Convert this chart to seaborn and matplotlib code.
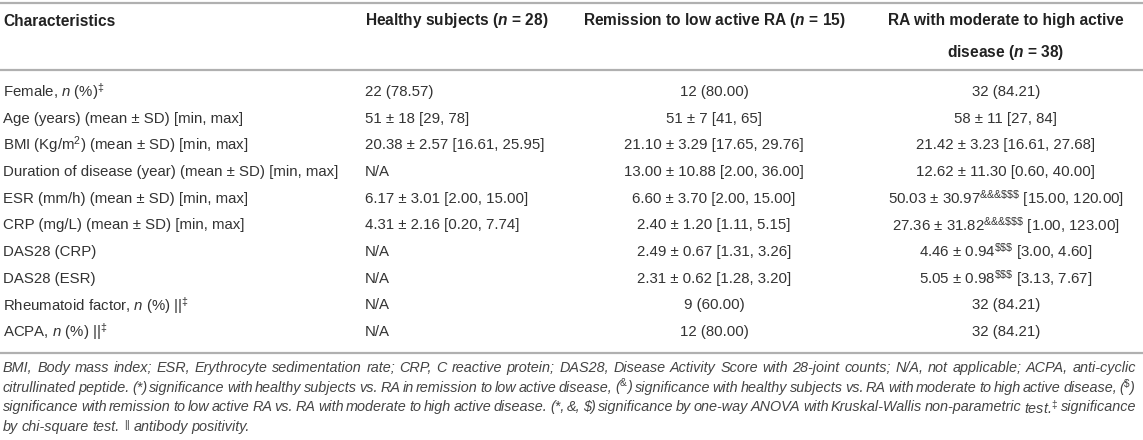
## Table 1 style figure: patient characteristics by group

import numpy as np
import pandas as pd
import seaborn as sns
from matplotlib import pyplot as plt

sns.set_theme(style="white")
plt.rcParams['font.family'] = ['Liberation Sans', 'DejaVu Sans']
plt.rcParams['mathtext.fontset'] = 'custom'
plt.rcParams['mathtext.rm'] = 'Liberation Sans'
plt.rcParams['mathtext.it'] = 'Liberation Sans:italic'
plt.rcParams['mathtext.bf'] = 'Liberation Sans:bold'
plt.rcParams['mathtext.bfit'] = 'Liberation Sans:italic:bold'

headers = ["Characteristics",
           "Healthy subjects ($\\mathbfit{n}$ = 28)",
           "Remission to low active RA ($\\mathbfit{n}$ = 15)",
           "RA with moderate to high active\ndisease ($\\mathbfit{n}$ = 38)"]

characteristics = ["Female, $\\mathit{n}$ (%)$^{‡}$",
                   "Age (years) (mean ± SD) [min, max]",
                   "BMI (Kg/m$^{2}$) (mean ± SD) [min, max]",
                   "Duration of disease (year) (mean ± SD) [min, max]",
                   "ESR (mm/h) (mean ± SD) [min, max]",
                   "CRP (mg/L) (mean ± SD) [min, max]",
                   "DAS28 (CRP)",
                   "DAS28 (ESR)",
                   "Rheumatoid factor, $\\mathit{n}$ (%) ||$^{‡}$",
                   "ACPA, $\\mathit{n}$ (%) ||$^{‡}$"]

healthy = ["22 (78.57)", "51 ± 18 [29, 78]", "20.38 ± 2.57 [16.61, 25.95]", "N/A",
           "6.17 ± 3.01 [2.00, 15.00]", "4.31 ± 2.16 [0.20, 7.74]",
           "N/A", "N/A", "N/A", "N/A"]

remission = ["12 (80.00)", "51 ± 7 [41, 65]", "21.10 ± 3.29 [17.65, 29.76]",
             "13.00 ± 10.88 [2.00, 36.00]", "6.60 ± 3.70 [2.00, 15.00]",
             "2.40 ± 1.20 [1.11, 5.15]", "2.49 ± 0.67 [1.31, 3.26]",
             "2.31 ± 0.62 [1.28, 3.20]", "9 (60.00)", "12 (80.00)"]

moderate = ["32 (84.21)", "58 ± 11 [27, 84]", "21.42 ± 3.23 [16.61, 27.68]",
            "12.62 ± 11.30 [0.60, 40.00]",
            "50.03 ± 30.97$^{&&&\\$\\$\\$}$ [15.00, 120.00]",
            "27.36 ± 31.82$^{&&&\\$\\$\\$}$ [1.00, 123.00]",
            "4.46 ± 0.94$^{\\$\\$\\$}$ [3.00, 4.60]",
            "5.05 ± 0.98$^{\\$\\$\\$}$ [3.13, 7.67]",
            "32 (84.21)", "32 (84.21)"]

footnotes = ["BMI, Body mass index; ESR, Erythrocyte sedimentation rate; CRP, C reactive protein; DAS28, Disease Activity Score with 28-joint counts; N/A, not applicable; ACPA, anti-cyclic",
             "citrullinated peptide. (*) significance with healthy subjects vs. RA in remission to low active disease, ($^{&}$) significance with healthy subjects vs. RA with moderate to high active disease, ($^{\\$}$)",
             "significance with remission to low active RA vs. RA with moderate to high active disease. (*, &, \\$) significance by one-way ANOVA with Kruskal-Wallis non-parametric test.$^{‡}$ significance",
             "by chi-square test. $^{||}$ antibody positivity."]

df = pd.DataFrame({'char': characteristics, 'healthy': healthy,
                   'remission': remission, 'moderate': moderate})

W, H = 1143, 440
fig = plt.figure(figsize=(W / 100, H / 100), dpi=100)
ax = fig.add_axes([0, 0, 1, 1])
ax.set_xlim(0, W)
ax.set_ylim(H, 0)
ax.axis('off')

body_fs = 10.8
head_fs = 11.2
head_col = '#222222'
body_col = '#333333'
foot_col = '#444444'
rule_col = '#b0b0b0'

# columns: left aligned, left aligned, centered, centered
col_x = [3, 365, 714, 1006]
col_ha = ['left', 'left', 'center', 'center']

# horizontal rules
for y in [3, 70, 353]:
    ax.plot([0, W], [y, y], color=rule_col, lw=1.6, solid_capstyle='butt')

# header
for x, ha, h in zip(col_x, col_ha, headers):
    for i, line in enumerate(h.split('\n')):
        ax.text(x, 21 + i * 31, line, ha=ha, va='center', fontsize=head_fs,
                fontweight='bold', color=head_col)

# body rows
row_y = 92 + 26.67 * np.arange(len(df))
for y, (_, r) in zip(row_y, df.iterrows()):
    for x, ha, key in zip(col_x, col_ha, ['char', 'healthy', 'remission', 'moderate']):
        ax.text(x, y, r[key], ha=ha, va='center', fontsize=body_fs, color=body_col)

# footnote, justified lines
renderer = fig.canvas.get_renderer()
left, right = 3, 1136
foot_font = ['Liberation Sans Narrow', 'Liberation Sans']
probe = ax.text(0, 0, footnotes[0], fontsize=10, style='italic', family=foot_font)
foot_fs = 10 * (right - left - 8) / probe.get_window_extent(renderer).width
probe.remove()
for i, line in enumerate(footnotes):
    y = 368 + i * 19.7
    words = line.split(' ')
    texts = [ax.text(0, y, w, ha='left', va='center', fontsize=foot_fs,
                     style='italic', family=foot_font, color=foot_col) for w in words]
    widths = [t.get_window_extent(renderer).width for t in texts]
    if i < len(footnotes) - 1:
        gap = (right - left - sum(widths)) / (len(words) - 1)
    else:
        gap = foot_fs * 0.25 * 100 / 72
    x = left
    for t, w in zip(texts, widths):
        t.set_x(x)
        x += w + gap

fig.savefig('out.png', dpi=100)
